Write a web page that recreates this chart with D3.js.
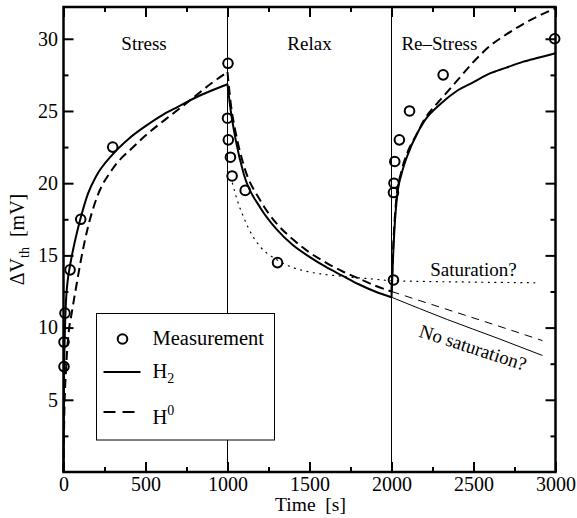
<!DOCTYPE html>
<html>
<head>
<meta charset="utf-8">
<script src="https://cdn.jsdelivr.net/npm/d3@7"></script>
<style>
  body { margin: 0; background: #fff; }
  svg text { font-family: "Liberation Serif", "Times New Roman", serif !important; fill: #000; }
</style>
</head>
<body>
<div id="wrapper"></div>
<script>
// measured points [time s, dVth mV]
const measurement = [
  [3, 7.3], [3, 9.0], [9, 11.0], [40, 14.0], [105, 17.5], [300, 22.5],
  [1003, 28.3], [1000, 24.5], [1005, 23.0], [1018, 21.8], [1028, 20.5], [1108, 19.5], [1305, 14.5],
  [2012, 13.3], [2012, 19.35], [2015, 20.0], [2020, 21.5], [2048, 23.0], [2110, 25.0], [2315, 27.5], [2995, 30.0]
]

// H2 model (solid)
const h2Stress = [[0,0],[3,6],[8,9.5],[15,11.8],[25,13.2],[40,14.3],[70,16.0],[100,17.4],[150,19.3],[200,20.5],
  [300,22.0],[400,23.1],[500,23.95],[600,24.7],[700,25.3],[800,25.9],[900,26.4],[1000,26.85]]
const h2Relax = [[1000,26.85],[1020,25.0],[1050,23.0],[1100,20.6],[1200,18.3],[1300,16.8],[1400,15.7],[1500,14.9],
  [1600,14.2],[1700,13.6],[1800,13.0],[1900,12.5],[2000,12.1]]
const h2ReStress = [[2000,12.1],[2010,15.0],[2025,18.0],[2040,19.6],[2060,20.6],[2100,22.0],[2150,23.3],[2200,24.3],
  [2300,25.5],[2400,26.4],[2500,27.0],[2600,27.6],[2700,28.0],[2800,28.4],[2900,28.7],[3000,29.0]]
const h2NoSat = [[2000,12.1],[2340,10.56],[2650,9.25],[2920,8.07]]

// H0 model (dashed)
const h0Stress = [[0,0],[5,4],[15,7],[30,9.5],[50,11],[80,13.0],[100,14.3],[150,17.0],[200,18.9],[300,21.0],
  [425,22.5],[500,23.3],[620,24.4],[700,25.1],[800,26.0],[900,26.9],[1000,27.7]]
const h0Relax = [[1000,27.7],[1020,25.5],[1050,23.5],[1100,21.2],[1200,18.8],[1300,17.2],[1400,16.1],[1500,15.2],
  [1600,14.5],[1700,13.9],[1800,13.4],[1900,12.9],[2000,12.5]]
const h0ReStress = [[2000,12.5],[2010,15.5],[2030,19.0],[2060,20.8],[2100,22.2],[2150,23.3],[2200,24.4],[2300,25.8],
  [2400,27.1],[2500,28.4],[2600,29.5],[2700,30.3],[2800,31.0],[2900,31.6],[3000,32.1]]
const h0NoSat = [[2000,12.5],[2300,11.4],[2600,10.3],[2920,9.1]]

// saturating relaxation (dotted)
const saturation = [[1030,20.0],[1060,18.8],[1100,17.6],[1150,16.4],[1200,15.6],[1300,14.7],[1400,14.15],[1500,13.85],
  [1700,13.55],[1900,13.35],[2000,13.25],[2500,13.15],[2900,13.1]]

const xTicks = [0, 500, 1000, 1500, 2000, 2500, 3000]
const yTicks = [5, 10, 15, 20, 25, 30]
const phaseBounds = [1000, 2000]
const phaseLabels = [["Stress", 491], ["Relax", 1500], ["Re\u2013Stress", 2292]]

const serif = "Liberation Serif"

const dimensions = {
  width: 577,
  height: 518,
  margin: { top: 7, right: 21.5, bottom: 46, left: 63.5 },
}
dimensions.boundedWidth = dimensions.width - dimensions.margin.left - dimensions.margin.right
dimensions.boundedHeight = dimensions.height - dimensions.margin.top - dimensions.margin.bottom

const wrapper = d3.select("#wrapper").append("svg")
  .attr("width", dimensions.width)
  .attr("height", dimensions.height)
  .style("font-family", serif)

const bounds = wrapper.append("g")
  .attr("transform", `translate(${dimensions.margin.left},${dimensions.margin.top})`)

const xScale = d3.scaleLinear().domain([0, 3000]).range([0, dimensions.boundedWidth])
const yScale = d3.scaleLinear().domain([0, 32.2]).range([dimensions.boundedHeight, 0])

// phase separators
bounds.selectAll(".phase").data(phaseBounds).join("line")
  .attr("x1", d => xScale(d)).attr("x2", d => xScale(d))
  .attr("y1", 0).attr("y2", dimensions.boundedHeight)
  .attr("stroke", "#000").attr("stroke-width", 1)

const line = d3.line()
  .x(d => xScale(d[0]))
  .y(d => yScale(d[1]))
  .curve(d3.curveMonotoneX)

const drawCurve = (data, width, dash) => bounds.append("path")
  .attr("d", line(data))
  .attr("fill", "none")
  .attr("stroke", "#000")
  .attr("stroke-width", width)
  .attr("stroke-dasharray", dash)

drawCurve(saturation, 1.2, "1,5.5").attr("stroke-linecap", "round")
drawCurve(h2NoSat, 1, null)
drawCurve(h0NoSat, 1, "8,6")
drawCurve(h2Stress, 2, null)
drawCurve(h2Relax, 2, null)
drawCurve(h2ReStress, 2, null)
drawCurve(h0Stress, 2, "9,5")
drawCurve(h0Relax, 2, "9,5")
drawCurve(h0ReStress, 2, "9,5")

// measurement circles
bounds.selectAll(".meas").data(measurement).join("circle")
  .attr("cx", d => xScale(d[0]))
  .attr("cy", d => yScale(d[1]))
  .attr("r", 4.8)
  .attr("fill", "none")
  .attr("stroke", "#000")
  .attr("stroke-width", 2)

// axes: ticks pointing inwards on all four sides
const xMinor = d3.range(250, 3000, 500)
const yMinor = d3.range(2.5, 32, 5)
const axisStyle = g => {
  g.attr("font-family", serif)
  g.select(".domain").remove()
  g.selectAll(".tick line").attr("stroke-width", 2)
  g.selectAll("text").style("font-family", serif).attr("font-size", 20)
}
bounds.append("g").attr("transform", `translate(0,${dimensions.boundedHeight})`)
  .call(d3.axisBottom(xScale).tickValues(xTicks).tickSize(-10).tickPadding(4.5).tickFormat(d3.format("d")))
  .call(axisStyle)
bounds.append("g").attr("transform", `translate(0,${dimensions.boundedHeight})`)
  .call(d3.axisBottom(xScale).tickValues(xMinor).tickSize(-5).tickFormat(""))
  .call(axisStyle)
bounds.append("g")
  .call(d3.axisTop(xScale).tickValues(xTicks).tickSize(-10).tickFormat(""))
  .call(axisStyle)
bounds.append("g")
  .call(d3.axisTop(xScale).tickValues(xMinor).tickSize(-5).tickFormat(""))
  .call(axisStyle)
bounds.append("g")
  .call(d3.axisLeft(yScale).tickValues(yTicks).tickSize(-10).tickPadding(5.5))
  .call(axisStyle)
bounds.append("g")
  .call(d3.axisLeft(yScale).tickValues(yMinor).tickSize(-5).tickFormat(""))
  .call(axisStyle)
bounds.append("g").attr("transform", `translate(${dimensions.boundedWidth},0)`)
  .call(d3.axisRight(yScale).tickValues(yTicks).tickSize(-10).tickFormat(""))
  .call(axisStyle)
bounds.append("g").attr("transform", `translate(${dimensions.boundedWidth},0)`)
  .call(d3.axisRight(yScale).tickValues(yMinor).tickSize(-5).tickFormat(""))
  .call(axisStyle)

bounds.append("rect")
  .attr("width", dimensions.boundedWidth)
  .attr("height", dimensions.boundedHeight)
  .attr("fill", "none")
  .attr("stroke", "#000")
  .attr("stroke-width", 2.5)

// phase labels
bounds.selectAll(".lbl").data(phaseLabels).join("text")
  .attr("x", d => xScale(d[1]))
  .attr("y", 43)
  .attr("text-anchor", "middle")
  .attr("font-size", 19)
  .text(d => d[0])

bounds.append("text")
  .attr("x", xScale(2500)).attr("y", yScale(13.56))
  .attr("text-anchor", "middle").attr("font-size", 19)
  .text("Saturation?")
bounds.append("text")
  .attr("transform", `translate(${xScale(2485)},${yScale(8.2)}) rotate(18)`)
  .attr("text-anchor", "middle").attr("font-size", 19)
  .text("No saturation?")

// axis titles
wrapper.append("text")
  .attr("x", 310.5)
  .attr("y", 510.5)
  .attr("text-anchor", "middle").attr("font-size", 19.5)
  .attr("xml:space", "preserve")
  .text("Time  [s]")

const yTitle = wrapper.append("text")
  .attr("transform", `translate(24,${dimensions.margin.top + dimensions.boundedHeight / 2}) rotate(-90)`)
  .attr("text-anchor", "middle").attr("font-size", 20)
  .attr("xml:space", "preserve")
yTitle.append("tspan").text("\u0394V")
yTitle.append("tspan").attr("font-size", 14).attr("dy", 5).text("th")
yTitle.append("tspan").attr("dy", -5).text("  [mV]")

// legend
const legend = wrapper.append("g").attr("transform", "translate(96.5,313.5)")
legend.append("rect")
  .attr("width", 178).attr("height", 126.5)
  .attr("fill", "#fff").attr("stroke", "#000").attr("stroke-width", 1)
legend.append("circle")
  .attr("cx", 26).attr("cy", 25.5).attr("r", 4.8)
  .attr("fill", "none").attr("stroke", "#000").attr("stroke-width", 2)
legend.append("text").attr("x", 56).attr("y", 31.5).attr("font-size", 20.5).text("Measurement")
legend.append("line")
  .attr("x1", 7).attr("x2", 44).attr("y1", 58.5).attr("y2", 58.5)
  .attr("stroke", "#000").attr("stroke-width", 2)
const h2Text = legend.append("text").attr("x", 56).attr("y", 64.5).attr("font-size", 20.5)
h2Text.append("tspan").text("H")
h2Text.append("tspan").attr("font-size", 14).attr("dy", 5).text("2")
legend.append("line")
  .attr("x1", 7).attr("x2", 44).attr("y1", 98.5).attr("y2", 98.5)
  .attr("stroke", "#000").attr("stroke-width", 2).attr("stroke-dasharray", "12,7")
const h0Text = legend.append("text").attr("x", 56).attr("y", 110.5).attr("font-size", 20.5)
h0Text.append("tspan").text("H")
h0Text.append("tspan").attr("font-size", 14).attr("dy", -9).text("0")
</script>
</body>
</html>
